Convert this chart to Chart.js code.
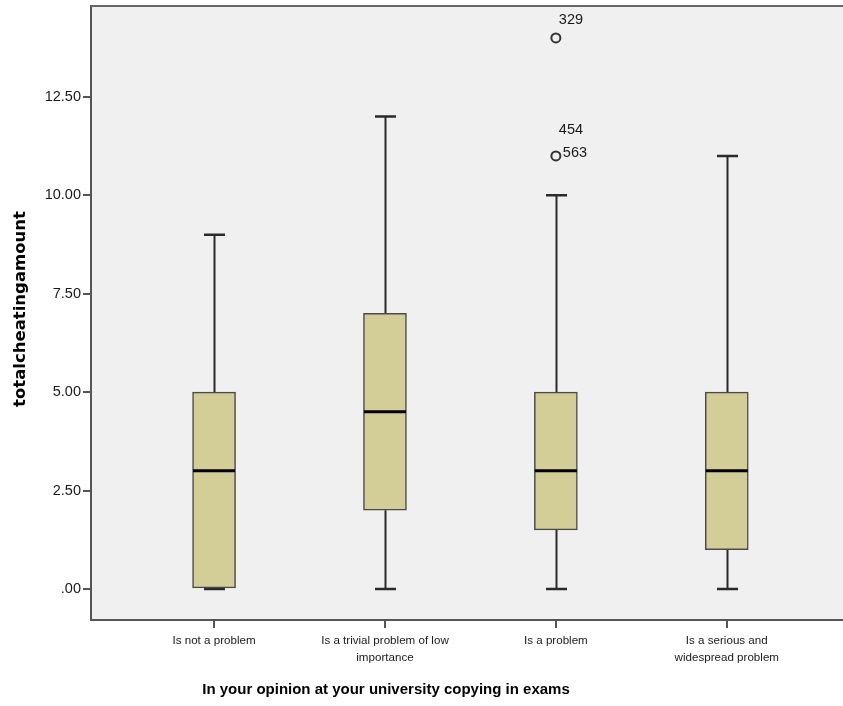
<!DOCTYPE html>
<html>
<head>
<meta charset="utf-8">
<script src="https://cdn.jsdelivr.net/npm/chart.js@4/dist/chart.umd.min.js"></script>
<style>
  html, body { margin: 0; padding: 0; background: #ffffff; }
  #wrap { width: 843px; height: 706px; position: relative; }
</style>
</head>
<body>
<div id="wrap"><canvas id="c" width="843" height="706"></canvas></div>
<script>
// Opinion categories (x axis)
const categories = [
  'Is not a problem',
  ['Is a trivial problem of low', 'importance'],
  'Is a problem',
  ['Is a serious and', 'widespread problem']
];
// Five-number summaries of totalcheatingamount per category
const whiskerLow  = [0, 0, 0, 0];
const quartile1   = [0, 2, 1.5, 1];
const medians     = [3, 4.5, 3, 3];
const quartile3   = [5, 7, 5, 5];
const whiskerHigh = [9, 12, 10, 11];
// Outlying cases: category index, value, case labels
const outlierCategory = [2, 2];
const outlierValue    = [14, 11];
const outlierCases    = [['329'], ['454', '563']];
// Value axis ticks
const yTicks = [0, 2.5, 5, 7.5, 10, 12.5];

const AXIS = '#555555';
const TEXT = '#1a1a1a';

const boxData = categories.map((c, i) => ({ x: i, y: [quartile1[i], quartile3[i]] }));
const outlierData = outlierCategory.map((c, i) => ({ x: c, y: outlierValue[i] }));

const boxPlotPlugin = {
  id: 'boxPlot',
  beforeDraw(chart) {
    const { ctx, chartArea } = chart;
    ctx.save();
    ctx.fillStyle = '#f0f0f0';
    ctx.fillRect(chartArea.left, chartArea.top, chartArea.right - chartArea.left, chartArea.bottom - chartArea.top);
    ctx.restore();
  },
  beforeDatasetsDraw(chart) {
    const { ctx, scales: { x, y }, chartArea } = chart;
    ctx.save();
    // frame line along the top of the plot
    ctx.strokeStyle = '#666666';
    ctx.lineWidth = 2;
    ctx.beginPath();
    ctx.moveTo(chartArea.left, chartArea.top);
    ctx.lineTo(chartArea.right, chartArea.top);
    ctx.stroke();
    // whiskers and caps
    ctx.strokeStyle = '#2a2a2a';
    categories.forEach((c, i) => {
      const px = Math.round(x.getPixelForValue(i)) + 0.5;
      const lo = y.getPixelForValue(whiskerLow[i]);
      const hi = y.getPixelForValue(whiskerHigh[i]);
      const q1 = y.getPixelForValue(quartile1[i]);
      const q3 = y.getPixelForValue(quartile3[i]);
      ctx.lineWidth = 2;
      ctx.beginPath();
      ctx.moveTo(px, hi); ctx.lineTo(px, q3);
      ctx.moveTo(px, q1); ctx.lineTo(px, lo);
      ctx.stroke();
      ctx.lineWidth = 2.5;
      ctx.beginPath();
      ctx.moveTo(px - 10.5, hi); ctx.lineTo(px + 10.5, hi);
      ctx.moveTo(px - 10.5, lo); ctx.lineTo(px + 10.5, lo);
      ctx.stroke();
    });
    ctx.restore();
  },
  afterDatasetsDraw(chart) {
    const { ctx, scales: { x, y } } = chart;
    ctx.save();
    // medians
    ctx.strokeStyle = '#000000';
    ctx.lineWidth = 3;
    categories.forEach((c, i) => {
      const px = x.getPixelForValue(i);
      const py = y.getPixelForValue(medians[i]);
      ctx.beginPath();
      ctx.moveTo(px - 21, py); ctx.lineTo(px + 21, py);
      ctx.stroke();
    });
    // outlier case labels
    ctx.fillStyle = TEXT;
    ctx.font = '14.5px "Liberation Sans", Arial, sans-serif';
    ctx.textAlign = 'left';
    ctx.textBaseline = 'middle';
    outlierCategory.forEach((c, i) => {
      const px = x.getPixelForValue(c);
      const py = y.getPixelForValue(outlierValue[i]);
      const labels = outlierCases[i];
      const n = labels.length;
      labels.forEach((lab, k) => {
        const fromBottom = n - 1 - k;
        const dx = (n > 1 && fromBottom === 0) ? 7 : 3;
        ctx.fillText(lab, px + dx, py - 3 - 23 * fromBottom - (n === 1 ? 15 : 0));
      });
    });
    // axis titles
    ctx.textAlign = 'center';
    ctx.textBaseline = 'middle';
    ctx.fillStyle = '#000000';
    ctx.font = 'bold 15px "Liberation Sans", Arial, sans-serif';
    ctx.fillText('In your opinion at your university copying in exams', 386, 690);
    ctx.save();
    ctx.translate(21, 309);
    ctx.rotate(-Math.PI / 2);
    ctx.font = 'bold 16.5px "DejaVu Sans", sans-serif';
    ctx.fillText('totalcheatingamount', 0, 0);
    ctx.restore();
    ctx.restore();
  }
};

new Chart(document.getElementById('c'), {
  type: 'bar',
  data: {
    datasets: [
      {
        type: 'bar',
        data: boxData,
        backgroundColor: '#d3ce98',
        borderColor: '#4a4a4a',
        borderWidth: 1.5,
        borderSkipped: false,
        barThickness: 43,
        order: 2
      },
      {
        type: 'scatter',
        data: outlierData,
        pointStyle: 'circle',
        pointRadius: 4.5,
        pointBorderWidth: 2,
        pointBorderColor: '#333333',
        pointBackgroundColor: 'rgba(0,0,0,0)',
        order: 1
      }
    ]
  },
  options: {
    responsive: false,
    animation: false,
    devicePixelRatio: 1,
    layout: { autoPadding: false, padding: { top: 6, right: 0, left: 0, bottom: 0 } },
    plugins: { legend: { display: false }, tooltip: { enabled: false } },
    scales: {
      x: {
        type: 'linear',
        offset: false,
        min: -0.72,
        max: 3.68,
        afterBuildTicks: s => { s.ticks = categories.map((c, i) => ({ value: i })); },
        afterFit: s => { s.height = 86; s.paddingLeft = 0; s.paddingRight = 0; },
        ticks: {
          autoSkip: false,
          maxRotation: 0,
          padding: 5,
          color: TEXT,
          font: { family: '"Liberation Sans", Arial, sans-serif', size: 11.6, lineHeight: 1.4 },
          callback: v => categories[v]
        },
        grid: { offset: false, drawOnChartArea: false, drawTicks: true, tickLength: 8, color: AXIS, lineWidth: 2 },
        border: { display: true, color: AXIS, width: 2 }
      },
      y: {
        type: 'linear',
        min: -0.79,
        max: 14.81,
        afterBuildTicks: s => { s.ticks = yTicks.map(v => ({ value: v })); },
        afterFit: s => { s.width = 91; s.paddingTop = 0; s.paddingBottom = 0; },
        ticks: {
          color: TEXT,
          padding: 2,
          font: { family: '"Liberation Sans", Arial, sans-serif', size: 14.5 },
          callback: v => v === 0 ? '.00' : v.toFixed(2)
        },
        grid: { drawOnChartArea: false, drawTicks: true, tickLength: 8, color: AXIS, lineWidth: 2 },
        border: { display: true, color: AXIS, width: 2 }
      }
    }
  },
  plugins: [boxPlotPlugin]
});
</script>
</body>
</html>
